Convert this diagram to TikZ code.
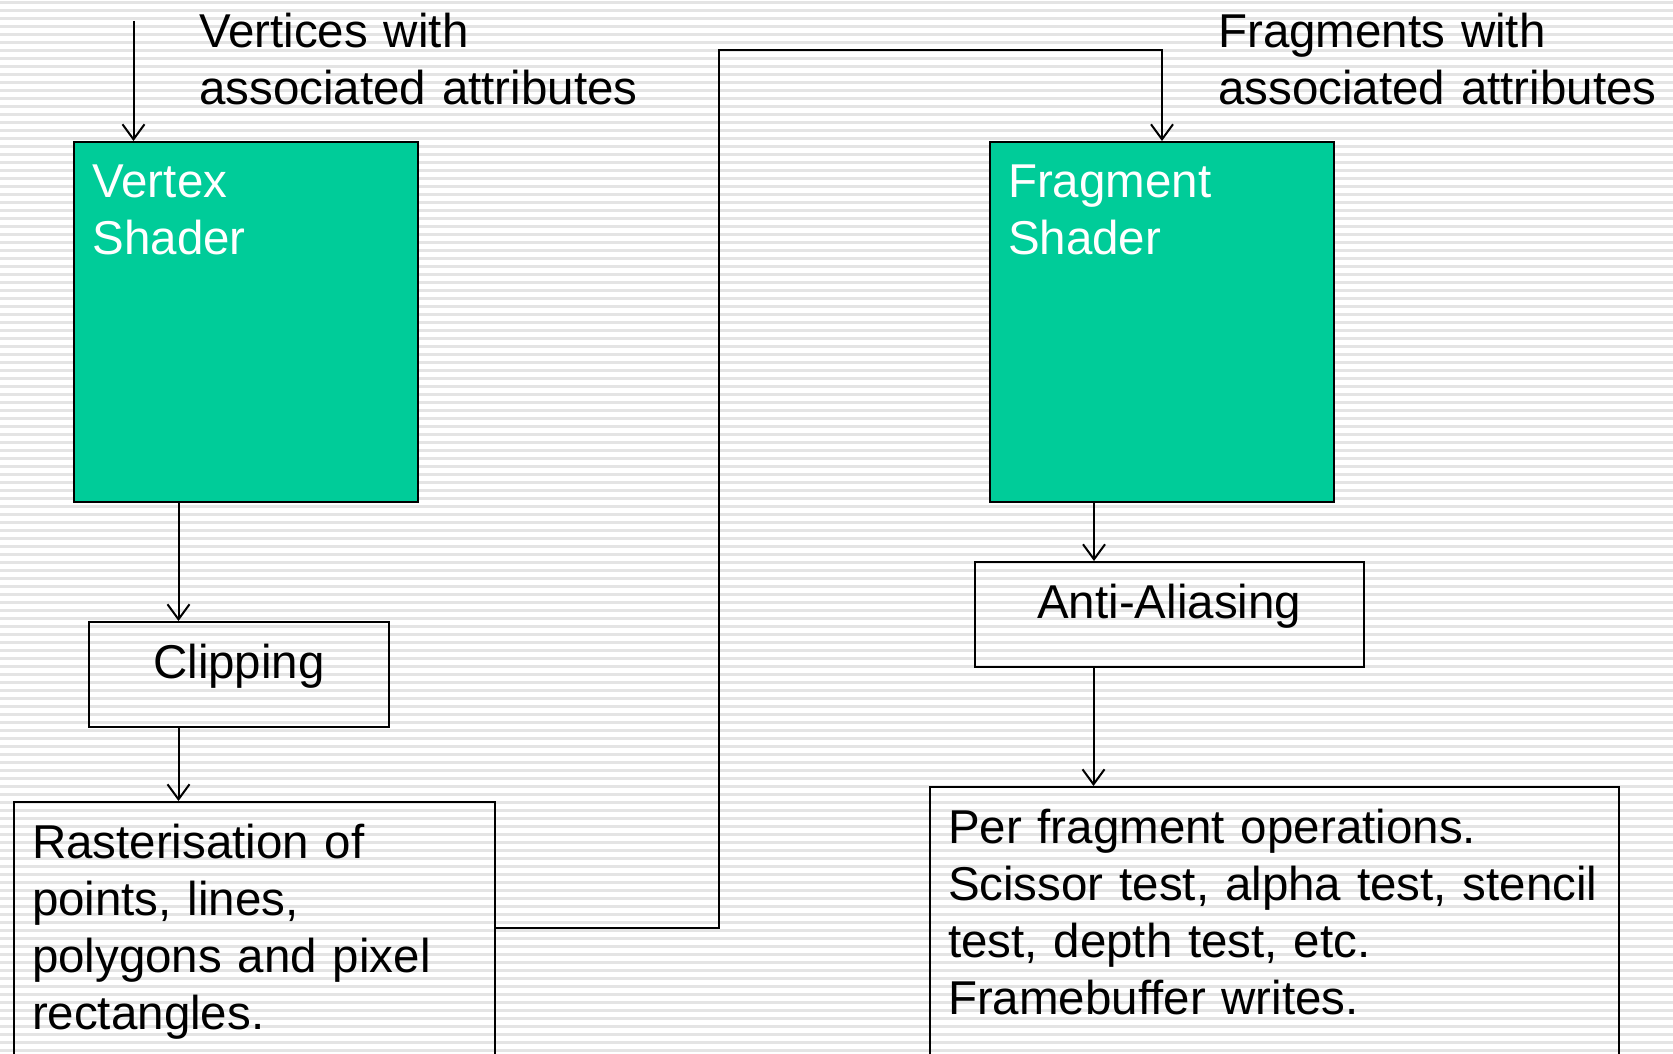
\documentclass[tikz,border=0pt]{standalone}
\usepackage{fontspec}
\setmainfont{Liberation Sans}
\usetikzlibrary{arrows.meta, positioning}

\definecolor{shadergreen}{RGB}{0,204,153}
\definecolor{stripegray}{RGB}{228,228,228}

\begin{document}
\begin{tikzpicture}[x=1pt, y=-1pt,
    every node/.style={font=\fontsize{47.5}{57}\selectfont},
    box/.style={draw=black, line width=2pt, anchor=north west,
        inner xsep=18.5pt, inner ysep=0pt, align=left},
    shader/.style={box, fill=shadergreen, text=white,
        text height=55pt, text depth=304.5pt, text width=307pt},
    arr/.style={line width=2pt, -{Straight Barb[length=15pt, width=22pt]}}
]

    % 1. Page and striped background
    \clip (0,0) rectangle (1673,1054);
    \fill[white] (0,0) rectangle (1673,1054);
    \foreach \y in {0,8,...,1056} {
        \fill[stripegray] (0,\y+1) rectangle (1673,\y+4);
    }

    % 2. Input labels
    \node[anchor=base west, inner sep=0pt, text width=500pt, align=left] (vlabel)
        at (199,47.5) {Vertices with\\associated attributes};
    \node[anchor=base west, inner sep=0pt, text width=500pt, align=left] (flabel)
        at (1218,47.5) {Fragments with\\associated attributes};

    % 3. Shader stages
    \node[shader] (vs) at (73,141) {Vertex\\Shader};
    \node[shader] (fs) at (988.5,141) {Fragment\\Shader};

    % 4. Fixed stages
    \node[box, align=center, text width=263pt, text height=56pt, text depth=48.5pt]
        (clip) at (88,621) {Clipping};
    \node[box, align=center, text width=352.5pt, text height=56pt, text depth=49pt]
        (aa) at (973.5,561) {Anti-Aliasing};
    \node[box, text width=444pt, text height=56pt, text depth=300pt]
        (raster) at (12.5,801) {Rasterisation of\\points, lines,\\polygons and pixel\\rectangles.};
    \node[box, text width=652.5pt, text height=56pt, text depth=300pt]
        (perfrag) at (928.5,786) {Per fragment operations.\\Scissor test, alpha test, stencil\\test, depth test, etc.\\Framebuffer writes.};

    % 5. Connectors
    \coordinate (vin) at (133.5,21);
    \coordinate (bend) at (718.5,50);
    \draw[arr] (vin) -- (vin |- vs.north);
    \draw[arr] ([xshift=105.5pt]vs.south west) -- ([xshift=105.5pt]vs.south west |- clip.north);
    \draw[arr] ([xshift=90.5pt]clip.south west) -- ([xshift=90.5pt]clip.south west |- raster.north);
    \draw[arr] ([yshift=-127pt]raster.north east) -| (bend) -| ([xshift=173.5pt]fs.north west);
    \draw[arr] ([xshift=105.5pt]fs.south west) -- ([xshift=105.5pt]fs.south west |- aa.north);
    \draw[arr] ([xshift=120pt]aa.south west) -- ([xshift=120pt]aa.south west |- perfrag.north);

\end{tikzpicture}
\end{document}
